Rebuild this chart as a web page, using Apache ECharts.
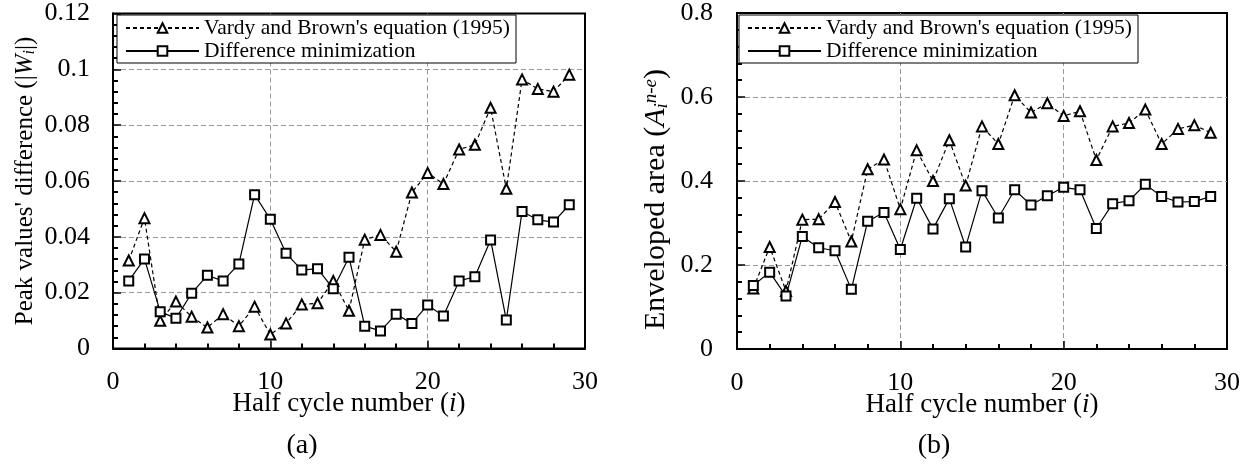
<!DOCTYPE html>
<html>
<head>
<meta charset="utf-8">
<script src="https://cdn.jsdelivr.net/npm/echarts@6/dist/echarts.min.js"></script>
<style>
html,body{margin:0;padding:0;background:#fff;}
#chart{width:1251px;height:467px;}
</style>
</head>
<body>
<div id="chart"></div>
<script>
const halfCycles = [1,2,3,4,5,6,7,8,9,10,11,12,13,14,15,16,17,18,19,20,21,22,23,24,25,26,27,28,29];
const seriesNames = ["Vardy and Brown's equation (1995)", "Difference minimization"];
const peakVardy = [0.0315,0.0467,0.0099,0.0168,0.0114,0.0075,0.0123,0.0080,0.0150,0.0050,0.0090,0.0158,0.0162,0.0242,0.0135,0.0390,0.0407,0.0347,0.0559,0.0629,0.0589,0.0713,0.0730,0.0862,0.0572,0.0964,0.0930,0.0920,0.0981];
const peakDiffMin = [0.0242,0.0321,0.0132,0.0108,0.0198,0.0262,0.0242,0.0303,0.0551,0.0463,0.0341,0.0281,0.0286,0.0214,0.0327,0.0080,0.0063,0.0123,0.0090,0.0156,0.0116,0.0242,0.0257,0.0389,0.0102,0.0491,0.0461,0.0453,0.0515];
const areaVardy = [0.144,0.243,0.138,0.308,0.309,0.350,0.256,0.428,0.451,0.333,0.473,0.400,0.497,0.389,0.530,0.488,0.604,0.563,0.585,0.555,0.566,0.450,0.530,0.538,0.570,0.488,0.524,0.533,0.515];
const areaDiffMin = [0.151,0.183,0.126,0.268,0.241,0.234,0.142,0.304,0.325,0.237,0.359,0.286,0.358,0.243,0.377,0.312,0.379,0.343,0.365,0.385,0.379,0.287,0.346,0.353,0.392,0.363,0.350,0.351,0.363];
const xTicks = {min: 0, max: 30, interval: 10};
const yTicksA = {min: 0, max: 0.12, interval: 0.02};
const yTicksB = {min: 0, max: 0.8, interval: 0.2};

const FONT = "'Liberation Serif', 'Times New Roman', serif";
const pair = (xs, ys) => xs.map((x, k) => [x, ys[k]]);

function nameStyle(size, extra) {
  const sub = Math.round(size * 0.63);
  return Object.assign({
    fontFamily: FONT, fontSize: size, color: '#000',
    rich: {
      it: {fontFamily: FONT, fontSize: size, fontStyle: 'italic', color: '#000'},
      sub: {fontFamily: FONT, fontSize: sub, fontStyle: 'italic', color: '#000', verticalAlign: 'bottom', lineHeight: Math.round(size * 0.45)},
      sup: {fontFamily: FONT, fontSize: sub, fontStyle: 'italic', color: '#000', verticalAlign: 'top', lineHeight: Math.round(size * 0.45)}
    }
  }, extra || {});
}

function xAxis(gridIndex) {
  return {
    type: 'value', gridIndex: gridIndex,
    min: xTicks.min, max: xTicks.max, interval: xTicks.interval,
    axisLine: {show: true, lineStyle: {color: '#000', width: 2}},
    axisTick: {show: true, inside: true, length: 8, lineStyle: {color: '#000', width: 1.5}},
    minorTick: {show: true, splitNumber: 5, length: 5, lineStyle: {color: '#000', width: 2}},
    axisLabel: {margin: 21, fontFamily: FONT, fontSize: 26, color: '#000'},
    splitLine: {show: true, showMinLine: false, showMaxLine: false, lineStyle: {color: '#999', type: [5, 3], width: 1}},
    name: 'Half cycle number ({it|i})',
    nameLocation: 'middle', nameGap: 42, nameMoveOverlap: false,
    nameTextStyle: nameStyle(27)
  };
}
function yAxis(gridIndex, t, name, gap, margin, style) {
  return {
    type: 'value', gridIndex: gridIndex,
    min: t.min, max: t.max, interval: t.interval,
    axisLine: {show: true, lineStyle: {color: '#000', width: 2}},
    axisTick: {show: true, inside: true, length: 8, lineStyle: {color: '#000', width: 1.5}},
    minorTick: {show: true, splitNumber: 5, length: 5, lineStyle: {color: '#000', width: 2}},
    axisLabel: {margin: margin, fontFamily: FONT, fontSize: 26, color: '#000'},
    splitLine: {show: true, showMinLine: false, showMaxLine: false, lineStyle: {color: '#999', type: [5, 3], width: 1}},
    name: name,
    nameLocation: 'middle', nameRotate: 90, nameGap: gap,
    nameTextStyle: style
  };
}
function lineSeries(name, data, xi, dashed, symbol) {
  return {
    type: 'line', name: name, xAxisIndex: xi, yAxisIndex: xi,
    data: data, color: '#000',
    symbol: symbol, symbolSize: symbol === 'emptyTriangle' ? 10 : 9,
    itemStyle: {color: '#000', borderColor: '#000', borderWidth: 1.6},
    lineStyle: {color: '#000', width: 1.2, type: dashed ? [4, 3] : 'solid'},
    emphasis: {disabled: true},
    z: 3
  };
}
function legend(left, top) {
  return {
    left: left, top: top, orient: 'vertical',
    itemWidth: 73, itemHeight: 12, itemGap: 1,
    padding: [2, 6, 1, 8],
    borderColor: '#000', borderWidth: 1, backgroundColor: '#fff',
    selectedMode: false,
    textStyle: {fontFamily: FONT, fontSize: 21.5, color: '#000'},
    data: seriesNames
  };
}

const chart = echarts.init(document.getElementById('chart'), null, {renderer: 'canvas'});
chart.setOption({
  animation: false,
  backgroundColor: '#fff',
  grid: [
    {left: 113, top: 13.5, width: 472, height: 335, show: true, borderColor: '#000', borderWidth: 2, backgroundColor: 'transparent'},
    {left: 737, top: 13, width: 490, height: 336, show: true, borderColor: '#000', borderWidth: 2, backgroundColor: 'transparent'}
  ],
  legend: [legend(117, 15), legend(739, 15)],
  xAxis: [xAxis(0), xAxis(1)],
  yAxis: [
    yAxis(0, yTicksA, "Peak values' difference (|{it|W}{sub|i}|)", 75, 23, nameStyle(25)),
    yAxis(1, yTicksB, "Enveloped area ({it|A}{sub|i}{sup|n-e})", 66, 24, nameStyle(30, {padding: [0, 37, 0, 0]}))
  ],
  series: [
    lineSeries(seriesNames[0], pair(halfCycles, peakVardy), 0, true, 'emptyTriangle'),
    lineSeries(seriesNames[1], pair(halfCycles, peakDiffMin), 0, false, 'emptyRect'),
    lineSeries(seriesNames[0], pair(halfCycles, areaVardy), 1, true, 'emptyTriangle'),
    lineSeries(seriesNames[1], pair(halfCycles, areaDiffMin), 1, false, 'emptyRect')
  ],
  graphic: [
    {type: 'text', x: 302, y: 446, style: {text: '(a)', font: "28px 'Liberation Serif', serif", fill: '#000', textAlign: 'center', textVerticalAlign: 'middle'}},
    {type: 'text', x: 934, y: 446, style: {text: '(b)', font: "28px 'Liberation Serif', serif", fill: '#000', textAlign: 'center', textVerticalAlign: 'middle'}}
  ]
});
</script>
</body>
</html>
